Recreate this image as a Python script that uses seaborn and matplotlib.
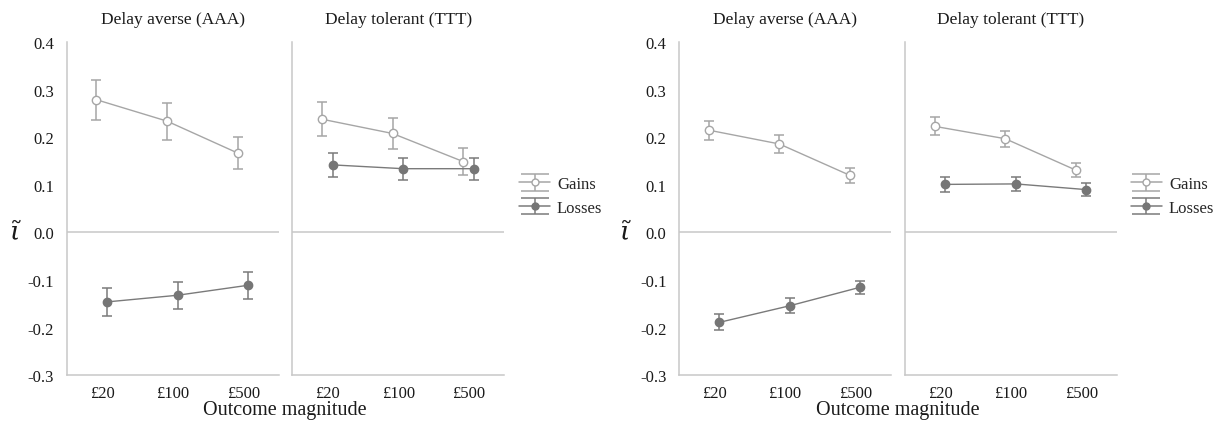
import numpy as np
import pandas as pd
import matplotlib
matplotlib.use("Agg")
import matplotlib.pyplot as plt
import seaborn as sns

# ---------------- data ----------------
categories = ["£20", "£100", "£500"]
groups = ["Delay averse (AAA)", "Delay tolerant (TTT)"]

# left figure
L_aaa_gains = [0.279, 0.234, 0.167]
L_aaa_gains_err = [0.042, 0.039, 0.034]
L_aaa_losses = [-0.146, -0.132, -0.111]
L_aaa_losses_err = [0.030, 0.028, 0.028]
L_ttt_gains = [0.238, 0.208, 0.149]
L_ttt_gains_err = [0.036, 0.033, 0.029]
L_ttt_losses = [0.142, 0.134, 0.134]
L_ttt_losses_err = [0.026, 0.023, 0.023]

# right figure
R_aaa_gains = [0.215, 0.186, 0.120]
R_aaa_gains_err = [0.020, 0.019, 0.016]
R_aaa_losses = [-0.189, -0.154, -0.115]
R_aaa_losses_err = [0.017, 0.016, 0.014]
R_ttt_gains = [0.223, 0.197, 0.131]
R_ttt_gains_err = [0.019, 0.017, 0.015]
R_ttt_losses = [0.101, 0.102, 0.090]
R_ttt_losses_err = [0.016, 0.015, 0.013]

yticks = [0.4, 0.3, 0.2, 0.1, 0.0, -0.1, -0.2, -0.3]
ytick_labels = ["0.4", "0.3", "0.2", "0.1", "0.0", "-0.1", "-0.2", "-0.3"]
series_names = ["Gains", "Losses"]

# ---------------- style ----------------
sns.set_theme(style="white")
plt.rcParams["font.family"] = ["Liberation Serif", "DejaVu Serif"]
plt.rcParams["axes.unicode_minus"] = False
plt.rcParams["mathtext.fontset"] = "dejavuserif"

SPINE = "#c8c8c8"
GAIN_LINE = "#a6a6a6"
LOSS_LINE = "#7a7a7a"
LOSS_FILL = "#767676"
TEXT = "#1a1a1a"

fig = plt.figure(figsize=(12.2, 4.27), dpi=100)

bottom, height = 0.119, 0.780
panel_lefts = [0.0547, 0.2396, 0.5566, 0.7418]
width = 0.1736

panels = [
    (L_aaa_gains, L_aaa_gains_err, L_aaa_losses, L_aaa_losses_err),
    (L_ttt_gains, L_ttt_gains_err, L_ttt_losses, L_ttt_losses_err),
    (R_aaa_gains, R_aaa_gains_err, R_aaa_losses, R_aaa_losses_err),
    (R_ttt_gains, R_ttt_gains_err, R_ttt_losses, R_ttt_losses_err),
]

GAIN_OFF, LOSS_OFF = -0.08, 0.07
base = np.arange(len(categories))

axes = []
for i, (left, pdata) in enumerate(zip(panel_lefts, panels)):
    ax = fig.add_axes([left, bottom, width, height])
    axes.append(ax)
    g, ge, l, le = pdata
    df = pd.DataFrame({
        "x": np.concatenate([base + GAIN_OFF, base + LOSS_OFF]),
        "y": g + l,
        "err": ge + le,
        "series": ["Gains"] * 3 + ["Losses"] * 3,
    })
    gd = df[df.series == "Gains"]
    ldf = df[df.series == "Losses"]
    ax.axhline(0, color=SPINE, lw=1.1, zorder=1)
    ax.errorbar(gd.x, gd.y, yerr=gd.err, fmt="none", ecolor=GAIN_LINE,
                elinewidth=1.1, capsize=3.5, capthick=1.1, zorder=2)
    ax.errorbar(ldf.x, ldf.y, yerr=ldf.err, fmt="none", ecolor=LOSS_LINE,
                elinewidth=1.1, capsize=3.5, capthick=1.1, zorder=2)
    sns.lineplot(data=gd, x="x", y="y", ax=ax, color=GAIN_LINE, lw=1.0,
                 marker="o", markersize=6, markerfacecolor="white",
                 markeredgecolor=GAIN_LINE, markeredgewidth=1.0, zorder=3,
                 legend=False)
    sns.lineplot(data=ldf, x="x", y="y", ax=ax, color=LOSS_LINE, lw=1.0,
                 marker="o", markersize=6, markerfacecolor=LOSS_FILL,
                 markeredgecolor=LOSS_FILL, markeredgewidth=1.0, zorder=3,
                 legend=False)
    ax.set_xlim(-0.5, 2.5)
    ax.set_ylim(-0.3, 0.4)
    ax.set_xticks(base)
    ax.set_xticklabels(categories, fontsize=12, color=TEXT)
    ax.set_yticks(yticks)
    if i in (0, 2):
        ax.set_yticklabels(ytick_labels, fontsize=12, color=TEXT)
    else:
        ax.set_yticklabels([])
    ax.tick_params(axis="both", direction="in", length=3, width=1,
                   color=SPINE, pad=7)
    ax.tick_params(axis="y", pad=9)
    for s in ["top", "right"]:
        ax.spines[s].set_visible(False)
    for s in ["left", "bottom"]:
        ax.spines[s].set_color(SPINE)
        ax.spines[s].set_linewidth(1.1)
    ax.set_xlabel("")
    ax.set_ylabel("")
    ax.set_title(groups[i % 2], fontsize=12.5, color=TEXT, pad=14)

# axis labels
fig.text((66.7 + 503.8) / 2 / 1220, 1 - 411 / 427, "Outcome magnitude",
         ha="center", va="center", fontsize=14.5, color=TEXT)
fig.text((679 + 1116.7) / 2 / 1220, 1 - 411 / 427, "Outcome magnitude",
         ha="center", va="center", fontsize=14.5, color=TEXT)
fig.text(16 / 1220, 1 - 233 / 427, r"$\tilde{\iota}$", ha="center",
         va="center", fontsize=19, color=TEXT)
fig.text(626 / 1220, 1 - 233 / 427, r"$\tilde{\iota}$", ha="center",
         va="center", fontsize=19, color=TEXT)


# legends
def make_handles(ax):
    hg = ax.errorbar([np.nan], [np.nan], yerr=[0.01], color=GAIN_LINE,
                     ecolor=GAIN_LINE, marker="o", markersize=5,
                     markerfacecolor="white", markeredgecolor=GAIN_LINE,
                     lw=1.1, capsize=10, capthick=1.1, elinewidth=1.1)
    hl = ax.errorbar([np.nan], [np.nan], yerr=[0.01], color=LOSS_LINE,
                     ecolor=LOSS_LINE, marker="o", markersize=5,
                     markerfacecolor=LOSS_FILL, markeredgecolor=LOSS_FILL,
                     lw=1.1, capsize=10, capthick=1.1, elinewidth=1.1)
    return [hg, hl]


for ax, anchor_x in [(axes[1], 507 / 1220), (axes[3], 1119 / 1220)]:
    hs = make_handles(ax)
    fig.legend(hs, series_names, loc="center left",
               bbox_to_anchor=(anchor_x, 1 - 197 / 427), frameon=False,
               fontsize=12, handlelength=1.9, handletextpad=0.4,
               labelspacing=0.45, borderpad=0.2)

fig.savefig("out.png", dpi=100)
